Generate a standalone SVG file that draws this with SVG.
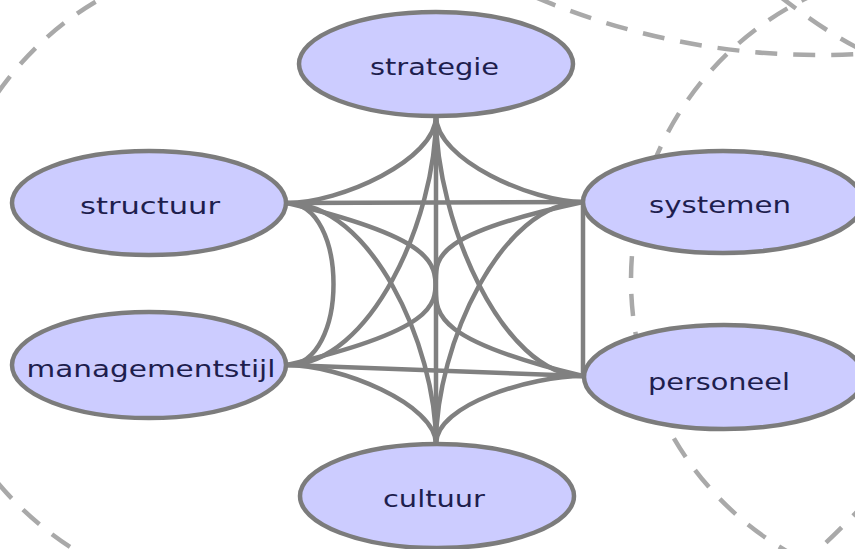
<svg xmlns="http://www.w3.org/2000/svg" width="855" height="549" viewBox="0 0 855 549">
<style>
.bg{fill:none;stroke:#a9a9a9;stroke-width:4.5;stroke-dasharray:22 16}
.e{fill:none;stroke:#808080;stroke-width:4.5}
.n{fill:#ccccff;stroke:#7c7c7c;stroke-width:4.5}
.t{font-family:"DejaVu Sans",Verdana,sans-serif;font-size:23px;fill:#1e1e4e;text-anchor:middle}
</style>
<rect width="855" height="549" fill="#ffffff"/>
<g id="background">
<path class="bg" d="M -3,94 A 316 316 0 0 1 102,-2"/>
<path class="bg" d="M -3,482 A 330 330 0 0 0 78,552"/>
<path class="bg" d="M 535,-3 A 728 728 0 0 0 860,54"/>
<circle class="bg" cx="945" cy="280" r="314"/>
<path class="bg" d="M 778,-5 Q 830,35 862,50"/>
<path class="bg" d="M 868,500 Q 845,525 812,556"/>
</g>
<g id="connectors">
<path class="e" d="M436,116 L436,444"/>
<path class="e" d="M287,203 L583,202"/>
<path class="e" d="M287,365 L583,376"/>
<path class="e" d="M583,202 L583,376"/>
<path class="e" d="M287,203 C349,203 349,365 287,365"/>
<path class="e" d="M436,116 C436,160 340,203 287,203"/>
<path class="e" d="M436,116 C436,160 532,202 583,202"/>
<path class="e" d="M436,444 C436,404 340,365 287,365"/>
<path class="e" d="M436,444 C436,404 532,376 583,376"/>
<path class="e" d="M436,116 C436,220 370,365 287,365"/>
<path class="e" d="M436,116 C436,220 502,376 583,376"/>
<path class="e" d="M436,444 C436,344 370,203 287,203"/>
<path class="e" d="M436,444 C436,344 502,202 583,202"/>
<path class="e" d="M287,203 C583,273 289,305 583,376"/>
<path class="e" d="M287,365 C583,295 289,265 583,202"/>
</g>
<g id="strategie">
<ellipse class="n" cx="436" cy="64" rx="137" ry="52"/>
<text class="t" x="434.5" y="75" textLength="129" lengthAdjust="spacingAndGlyphs">strategie</text>
</g>
<g id="structuur">
<ellipse class="n" cx="149" cy="203" rx="137" ry="52"/>
<text class="t" x="150" y="214" textLength="140" lengthAdjust="spacingAndGlyphs">structuur</text>
</g>
<g id="managementstijl">
<ellipse class="n" cx="149" cy="365" rx="137" ry="53"/>
<text class="t" x="151" y="377" textLength="249" lengthAdjust="spacingAndGlyphs">managementstijl</text>
</g>
<g id="systemen">
<ellipse class="n" cx="723" cy="202" rx="140" ry="51"/>
<text class="t" x="720" y="213" textLength="142" lengthAdjust="spacingAndGlyphs">systemen</text>
</g>
<g id="personeel">
<ellipse class="n" cx="724" cy="377" rx="140" ry="52"/>
<text class="t" x="719" y="390" textLength="142" lengthAdjust="spacingAndGlyphs">personeel</text>
</g>
<g id="cultuur">
<ellipse class="n" cx="437" cy="496" rx="137" ry="52"/>
<text class="t" x="434" y="507" textLength="102" lengthAdjust="spacingAndGlyphs">cultuur</text>
</g>
</svg>
